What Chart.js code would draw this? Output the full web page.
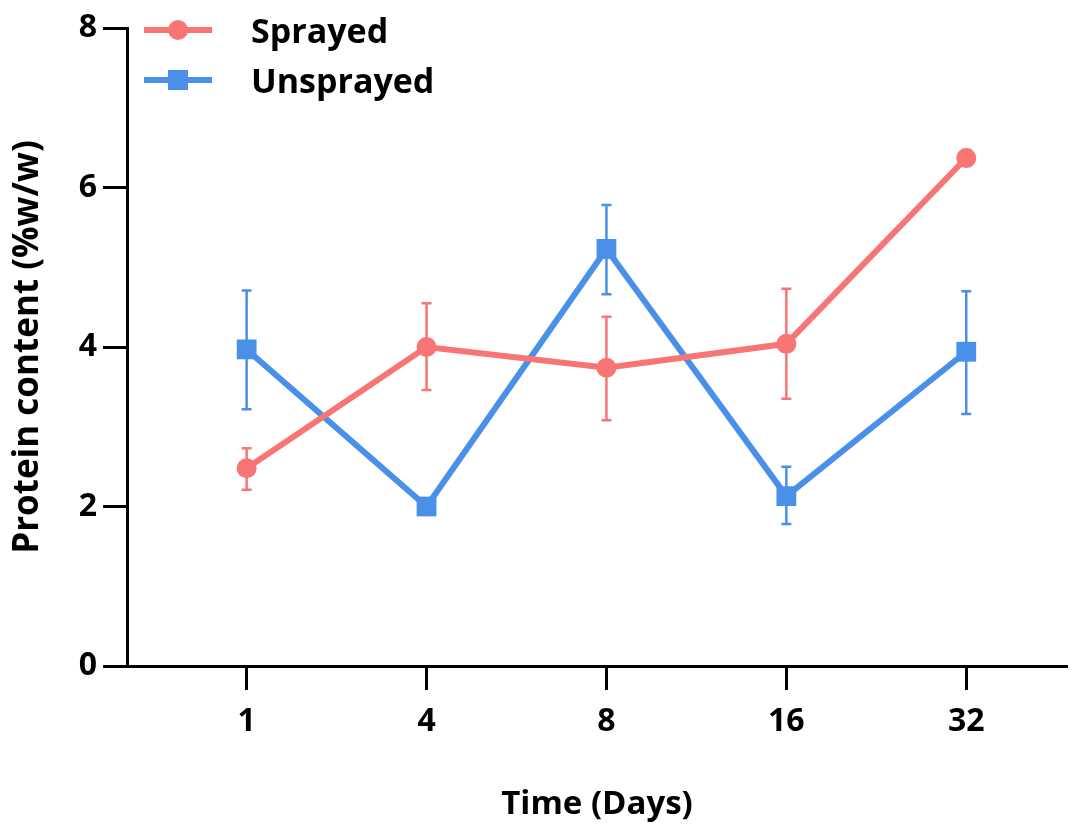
<!DOCTYPE html>
<html>
<head>
<meta charset="utf-8">
<script src="https://cdn.jsdelivr.net/npm/chart.js@4/dist/chart.umd.min.js"></script>
<style>
  body { margin: 0; background: #fff; }
  #wrap { width: 1081px; height: 824px; }
</style>
</head>
<body>
<div id="wrap"><canvas id="proteinChart" width="1081" height="824"></canvas></div>
<script>
// Data
const days = ['1', '4', '8', '16', '32'];

const sprayed      = [2.48, 4.00, 3.74, 4.04, 6.37];
const sprayedHigh  = [2.73, 4.55, 4.38, 4.73, 6.47];
const sprayedLow   = [2.21, 3.46, 3.08, 3.35, 6.27];

const unsprayed     = [3.97, 2.00, 5.23, 2.13, 3.94];
const unsprayedHigh = [4.71, 2.03, 5.78, 2.50, 4.70];
const unsprayedLow  = [3.22, 1.97, 4.66, 1.78, 3.16];

const yTicks = [0, 2, 4, 6, 8];

const RED = '#f77575';
const BLUE = '#4a90e8';
const FONT = '"Open Sans", Lato, sans-serif';

const toPoints = arr => arr.map((v, i) => ({ x: i, y: v }));

// error bars drawn under the markers, through the chart scales
const errorBars = {
    id: 'errorBars',
    beforeDatasetsDraw(chart) {
        const { ctx, scales: { x, y } } = chart;
        chart.data.datasets.forEach(ds => {
            ctx.save();
            ctx.strokeStyle = ds.borderColor;
            ctx.lineWidth = 2.5;
            ds.high.forEach((hi, i) => {
                const px = x.getPixelForValue(i);
                const yHi = y.getPixelForValue(hi);
                const yLo = y.getPixelForValue(ds.low[i]);
                ctx.beginPath();
                ctx.moveTo(px, yHi); ctx.lineTo(px, yLo);
                ctx.moveTo(px - 5, yHi); ctx.lineTo(px + 5, yHi);
                ctx.moveTo(px - 5, yLo); ctx.lineTo(px + 5, yLo);
                ctx.stroke();
            });
            ctx.restore();
        });
    }
};

// legend in the top-left corner, like the original
const cornerLegend = {
    id: 'cornerLegend',
    afterDraw(chart) {
        const { ctx } = chart;
        const rows = [
            { label: 'Sprayed', color: RED, shape: 'circle', y: 30 },
            { label: 'Unsprayed', color: BLUE, shape: 'square', y: 80 }
        ];
        ctx.save();
        rows.forEach(r => {
            ctx.strokeStyle = r.color;
            ctx.fillStyle = r.color;
            ctx.lineWidth = 6;
            ctx.beginPath();
            ctx.moveTo(144, r.y); ctx.lineTo(212, r.y);
            ctx.stroke();
            if (r.shape === 'circle') {
                ctx.beginPath();
                ctx.arc(178, r.y, 10, 0, Math.PI * 2);
                ctx.fill();
            } else {
                ctx.fillRect(168, r.y - 10, 20, 20);
            }
            ctx.fillStyle = '#000';
            ctx.font = 'bold 34px ' + FONT;
            ctx.textBaseline = 'middle';
            ctx.fillText(r.label, 251, r.y + 3);
        });
        ctx.restore();
    }
};

new Chart(document.getElementById('proteinChart'), {
    type: 'line',
    data: {
        datasets: [
            {
                label: 'Sprayed',
                data: toPoints(sprayed),
                high: sprayedHigh,
                low: sprayedLow,
                borderColor: RED,
                backgroundColor: RED,
                borderWidth: 6,
                pointStyle: 'circle',
                pointRadius: 10,
                pointBorderWidth: 0,
                tension: 0
            },
            {
                label: 'Unsprayed',
                data: toPoints(unsprayed),
                high: unsprayedHigh,
                low: unsprayedLow,
                borderColor: BLUE,
                backgroundColor: BLUE,
                borderWidth: 6,
                pointStyle: 'rect',
                pointRadius: 14,
                pointBorderWidth: 0,
                tension: 0
            }
        ]
    },
    options: {
        responsive: false,
        animation: false,
        layout: { padding: { top: 28, right: 0, left: 0, bottom: 0 } },
        plugins: {
            legend: { display: false },
            tooltip: { enabled: false }
        },
        scales: {
            x: {
                type: 'linear',
                min: -0.665,
                max: 4.56,
                afterBuildTicks: s => { s.ticks = days.map((_, i) => ({ value: i })); },
                afterFit: s => { s.height = 158; },
                border: { display: true, color: '#000', width: 3 },
                grid: { drawOnChartArea: false, drawTicks: true, tickLength: 24, tickWidth: 3, color: '#000' },
                ticks: {
                    callback: v => days[v],
                    color: '#000',
                    font: { family: FONT, size: 32, weight: 'bold' },
                    padding: 13,
                    maxRotation: 0
                },
                title: {
                    display: true,
                    text: 'Time (Days)',
                    color: '#000',
                    font: { family: FONT, size: 33, weight: 'bold' },
                    padding: { top: 0, bottom: 0 }
                }
            },
            y: {
                min: 0,
                max: 8,
                afterBuildTicks: s => { s.ticks = yTicks.map(v => ({ value: v })); },
                afterFit: s => { s.width = 127; },
                border: { display: true, color: '#000', width: 3 },
                grid: { drawOnChartArea: false, drawTicks: true, tickLength: 24, tickWidth: 3, color: '#000' },
                ticks: {
                    color: '#000',
                    font: { family: FONT, size: 32, weight: 'bold' },
                    padding: 6
                },
                title: {
                    display: true,
                    text: 'Protein content (%w/w)',
                    color: '#000',
                    font: { family: FONT, size: 35, weight: 'bold' },
                    padding: { top: 7, bottom: 0 }
                }
            }
        }
    },
    plugins: [errorBars, cornerLegend]
});
</script>
</body>
</html>
